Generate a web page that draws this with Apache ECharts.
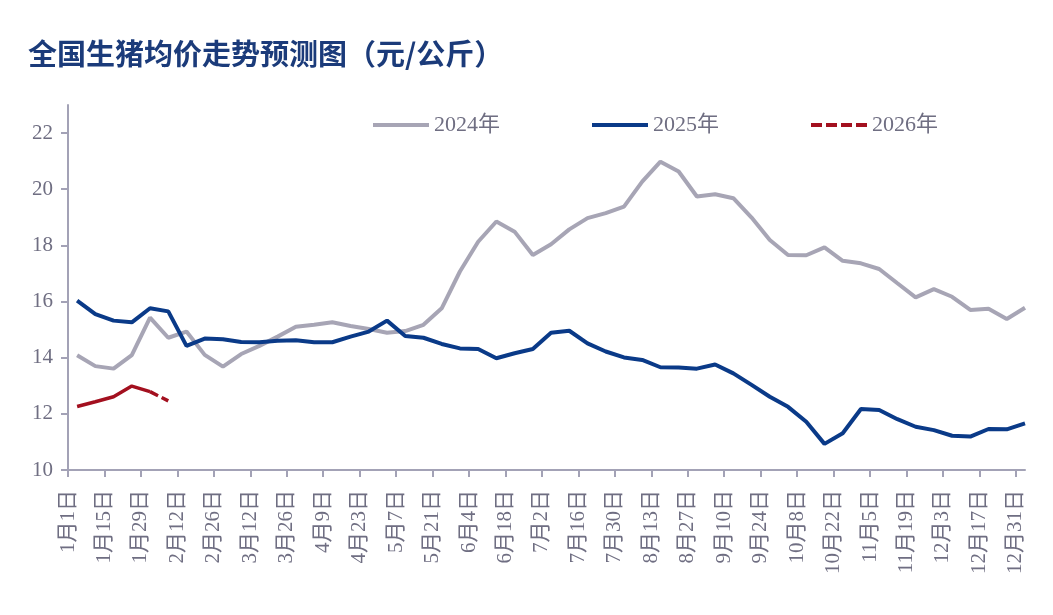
<!DOCTYPE html>
<html>
<head>
<meta charset="utf-8">
<script src="https://cdn.jsdelivr.net/npm/echarts@6/dist/echarts.min.js"></script>
<style>
html,body{margin:0;padding:0;background:#fff;}
#chart{width:1053px;height:615px;}
</style>
</head>
<body>
<div id="chart"></div>
<script>
const tickLabels = ['1月1日','1月15日','1月29日','2月12日','2月26日','3月12日','3月26日','4月9日','4月23日','5月7日','5月21日','6月4日','6月18日','7月2日','7月16日','7月30日','8月13日','8月27日','9月10日','9月24日','10月8日','10月22日','11月5日','11月19日','12月3日','12月17日','12月31日'];
const yTicks = [10, 12, 14, 16, 18, 20, 22];
const seriesNames = ['2024年', '2025年', '2026年'];
const price2024 = [14.09,13.70,13.61,14.09,15.43,14.71,14.93,14.10,13.68,14.13,14.42,14.75,15.10,15.17,15.26,15.13,15.02,14.89,14.95,15.17,15.76,17.07,18.13,18.85,18.49,17.66,18.04,18.57,18.97,19.15,19.38,20.27,20.98,20.63,19.74,19.82,19.68,18.99,18.19,17.66,17.65,17.93,17.45,17.36,17.16,16.65,16.15,16.44,16.17,15.70,15.74,15.38,15.78];
const price2025 = [16.03,15.55,15.32,15.26,15.76,15.65,14.42,14.68,14.66,14.56,14.55,14.60,14.62,14.55,14.55,14.75,14.93,15.32,14.77,14.71,14.49,14.33,14.31,13.98,14.16,14.31,14.89,14.96,14.51,14.22,14.01,13.92,13.66,13.65,13.61,13.76,13.44,13.03,12.61,12.25,11.72,10.93,11.31,12.17,12.14,11.81,11.54,11.42,11.22,11.19,11.46,11.45,11.66];
const price2026Actual = [12.26,12.43,12.61,12.99,12.79];
const price2026Forecast = [12.79,12.46];
const forecastStart = 4;

const toPoints = (arr, start) => arr.map((v, i) => [start + i + 0.5, v]);
const tickVals = tickLabels.map((_, i) => i * 2);

const serifFont = '"Liberation Serif", "Noto Sans CJK SC", serif';
const axisColor = '#a3a2b6';
const textColor = '#6f6e82';
const c2024 = '#a7a5b5', c2025 = '#0a3a88', c2026 = '#a3101f';

const chart = echarts.init(document.getElementById('chart'), null, {renderer: 'canvas'});
chart.setOption({
  animation: false,
  backgroundColor: '#ffffff',
  title: {
    text: '全国生猪均价走势预测图（元/公斤）',
    left: 23, top: 34,
    textStyle: {fontFamily: '"Noto Sans CJK SC", sans-serif', fontSize: 29, fontWeight: 'bold', color: '#1b3b7a'}
  },
  legend: {
    data: [
      {name: seriesNames[0], itemStyle: {opacity: 0}, lineStyle: {color: c2024, width: 4}},
      {name: seriesNames[1], itemStyle: {opacity: 0}, lineStyle: {color: c2025, width: 4}},
      {name: seriesNames[2], itemStyle: {opacity: 0}, lineStyle: {color: c2026, width: 4, type: [11, 4]}}
    ],
    left: 366, top: 109,
    itemWidth: 56, itemHeight: 14, itemGap: 90,
    textStyle: {fontFamily: serifFont, fontSize: 22, color: textColor}
  },
  grid: {left: 68, right: 28, top: 105, bottom: 145, containLabel: false},
  xAxis: {
    type: 'value', min: 0, max: 52.5,
    splitLine: {show: false},
    axisLine: {show: true, lineStyle: {color: axisColor, width: 2}},
    axisTick: {show: true, length: 7, lineStyle: {color: axisColor, width: 2}, customValues: tickVals},
    axisLabel: {
      customValues: tickVals,
      rotate: 90, margin: 20,
      fontFamily: serifFont, fontSize: 21, color: textColor,
      formatter: v => tickLabels[Math.round(v / 2)] || ''
    }
  },
  yAxis: {
    type: 'value', min: 10, max: 23,
    splitLine: {show: false},
    axisLine: {show: true, lineStyle: {color: axisColor, width: 2}},
    axisTick: {show: true, length: 7, lineStyle: {color: axisColor, width: 2}, customValues: yTicks},
    axisLabel: {customValues: yTicks, margin: 15, fontFamily: serifFont, fontSize: 21, color: textColor}
  },
  series: [
    {name: seriesNames[0], type: 'line', data: toPoints(price2024, 0), symbol: 'none',
     lineStyle: {color: c2024, width: 4}, itemStyle: {color: c2024}},
    {name: seriesNames[1], type: 'line', data: toPoints(price2025, 0), symbol: 'none',
     lineStyle: {color: c2025, width: 4}, itemStyle: {color: c2025}},
    {name: seriesNames[2], type: 'line', data: toPoints(price2026Forecast, forecastStart), symbol: 'none',
     lineStyle: {color: c2026, width: 3.5, type: [9, 4]}, itemStyle: {color: c2026}},
    {name: '2026年实际', type: 'line', data: toPoints(price2026Actual, 0), symbol: 'none',
     lineStyle: {color: c2026, width: 3.5}, itemStyle: {color: c2026}}
  ]
});
</script>
</body>
</html>
